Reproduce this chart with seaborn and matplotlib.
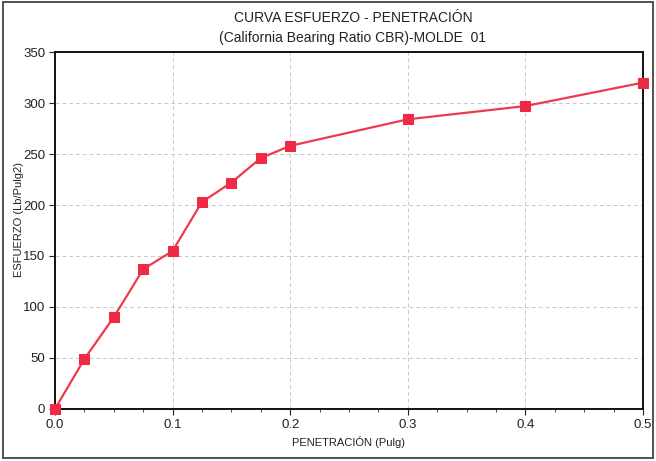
import matplotlib
matplotlib.use("Agg")
import matplotlib.pyplot as plt
import seaborn as sns
import pandas as pd
from matplotlib.ticker import MultipleLocator
from matplotlib.patches import Rectangle

penetracion = [0.0, 0.025, 0.05, 0.075, 0.1, 0.125, 0.15, 0.175, 0.2, 0.3, 0.4, 0.5]
esfuerzo = [0, 49, 90, 137, 155, 203, 222, 246, 258, 284, 297, 320]
x_ticks = [0.0, 0.1, 0.2, 0.3, 0.4, 0.5]
y_ticks = [0, 50, 100, 150, 200, 250, 300, 350]

sns.set_theme(style="white")
plt.rcParams['font.family'] = ['Liberation Sans', 'DejaVu Sans']

df = pd.DataFrame({"x": penetracion, "y": esfuerzo})

fig = plt.figure(figsize=(6.56, 4.61), dpi=100)
ax = fig.add_axes([0.0838, 0.1128, 0.8964, 0.7744])
red = "#ee3a4f"
sns.lineplot(data=df, x="x", y="y", ax=ax, color=red, linewidth=1.6,
             marker="s", markersize=6.5, markerfacecolor="#ef2a45",
             markeredgecolor="#ef2a45", zorder=5, clip_on=False)

ax.set_xlim(0, 0.5)
ax.set_ylim(0, 350)
ax.set_xticks(x_ticks)
ax.set_xticklabels([f"{v:.1f}" for v in x_ticks])
ax.set_yticks(y_ticks)
ax.xaxis.set_minor_locator(MultipleLocator(0.025))
ax.grid(True, which="major", color="#c8c8c8", linestyle=(0, (4, 3)), linewidth=0.7)
ax.tick_params(axis="both", which="major", labelsize=9.5, colors="#222222",
               length=4, width=0.8, direction="out", bottom=True, left=True, pad=3)
ax.tick_params(axis="x", which="minor", length=2, width=0.6, bottom=True, direction="out")
for s in ax.spines.values():
    s.set_color("#111111")
    s.set_linewidth(1.4)
ax.set_xlabel("PENETRACIÓN (Pulg)", fontsize=8, color="#222222", labelpad=4)
ax.set_ylabel("ESFUERZO (Lb/Pulg2)", fontsize=8, color="#222222")
ax.yaxis.set_label_coords(-0.053, 0.53)

fig.text(0.538, 0.962, "CURVA ESFUERZO - PENETRACIÓN", ha="center", va="center",
         fontsize=10, color="#222222")
fig.text(0.538, 0.918, "(California Bearing Ratio CBR)-MOLDE  01", ha="center", va="center",
         fontsize=10, color="#222222")

fig.patches.append(Rectangle((0.004, 0.006), 0.992, 0.99, transform=fig.transFigure,
                             fill=False, edgecolor="#333333", linewidth=1.2))

fig.savefig("out.png", dpi=100)
